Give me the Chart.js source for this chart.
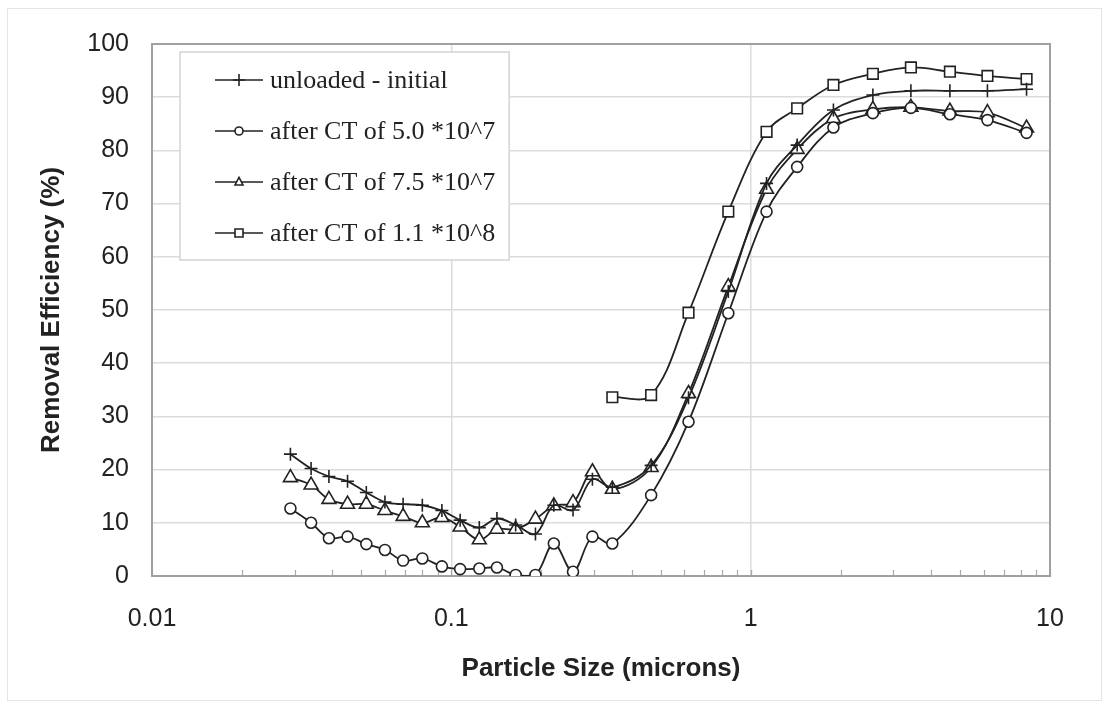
<!DOCTYPE html>
<html>
<head>
<title>Removal Efficiency vs Particle Size</title>
<script src="https://cdn.jsdelivr.net/npm/chart.js"></script>
<style>
    body { margin: 0; background: #fff; }
    .wrap { position: relative; width: 1109px; height: 707px; }
    .frame { position: absolute; left: 7px; top: 8px; right: 7px; bottom: 6px; border: 1px solid #e4e4e4; pointer-events: none; }
</style>
</head>
<body>
<div class="wrap">
    <canvas id="chart" width="1109" height="707"></canvas>
    <div class="frame"></div>
</div>
<script>
// particle size bins (microns)
const sizes = [0.029, 0.034, 0.039, 0.045, 0.052, 0.060, 0.069, 0.080, 0.093, 0.107,
               0.124, 0.142, 0.164, 0.191, 0.220, 0.255, 0.296, 0.345, 0.465, 0.620,
               0.842, 1.13, 1.43, 1.89, 2.56, 3.43, 4.63, 6.18, 8.35];

// removal efficiency (%)
const unloaded = [22.9, 20.2, 18.7, 17.8, 15.7, 13.9, 13.5, 13.3, 12.3, 10.5,
                  9.1, 10.8, 9.6, 7.9, 13.3, 12.4, 18.2, 16.7, 20.8, 33.5,
                  53.5, 73.8, 81.0, 87.6, 90.4, 91.2, 91.2, 91.2, 91.5];
const ct50 = [12.7, 10.0, 7.1, 7.4, 6.0, 4.9, 2.9, 3.3, 1.8, 1.3,
              1.4, 1.6, 0.2, 0.2, 6.1, 0.8, 7.4, 6.1, 15.2, 29.0,
              49.4, 68.5, 76.9, 84.3, 87.0, 88.0, 86.8, 85.7, 83.3];
const ct75 = [18.5, 17.1, 14.4, 13.5, 13.5, 12.3, 11.2, 10.0, 11.0, 9.2,
              6.8, 8.8, 8.8, 10.7, 13.2, 13.8, 19.6, 16.3, 20.4, 34.3,
              54.4, 72.7, 80.2, 86.0, 87.7, 88.1, 87.4, 87.1, 84.2];
const ct110 = [null, null, null, null, null, null, null, null, null, null,
               null, null, null, null, null, null, null, 33.6, 34.0, 49.5,
               68.5, 83.5, 87.9, 92.3, 94.4, 95.6, 94.8, 94.0, 93.4];

const seriesLabels = ['unloaded - initial', 'after CT of 5.0 *10^7', 'after CT of 7.5 *10^7', 'after CT of 1.1 *10^8'];
const seriesValues = [unloaded, ct50, ct75, ct110];
const seriesMarkers = ['cross', 'circle', 'triangle', 'rect'];
const markerRadius = [6.5, 5.5, 8, 7.5];

const xTickLabels = ['0.01', '0.1', '1', '10'];

function isDecade(v) {
    const l = Math.log10(v);
    return Math.abs(l - Math.round(l)) < 1e-6;
}

function drawMarker(ctx, style, x, y, r) {
    ctx.beginPath();
    if (style === 'cross') {
        ctx.moveTo(x - r, y); ctx.lineTo(x + r, y);
        ctx.moveTo(x, y - r); ctx.lineTo(x, y + r);
        ctx.stroke();
        return;
    }
    if (style === 'circle') ctx.arc(x, y, r, 0, Math.PI * 2);
    else if (style === 'rect') ctx.rect(x - r, y - r, 2 * r, 2 * r);
    else if (style === 'triangle') {
        ctx.moveTo(x, y - r * 1.15);
        ctx.lineTo(x + r, y + r * 0.75);
        ctx.lineTo(x - r, y + r * 0.75);
        ctx.closePath();
    }
    ctx.fillStyle = '#fff';
    ctx.fill();
    ctx.stroke();
}

// plot frame + small inside tick marks on the log axis
const framePlugin = {
    id: 'framePlugin',
    beforeDatasetsDraw(chart) {
        const { ctx, chartArea: a, scales: { x } } = chart;
        ctx.save();
        ctx.strokeStyle = '#a8a8a8';
        ctx.lineWidth = 1.2;
        [0.01, 0.1, 1].forEach(d => {
            for (let k = 1; k <= 10; k++) {
                const px = Math.round(x.getPixelForValue(k * d)) + 0.5;
                ctx.beginPath();
                ctx.moveTo(px, a.bottom);
                ctx.lineTo(px, a.bottom - 6);
                ctx.stroke();
            }
        });
        ctx.strokeStyle = '#a0a0a0';
        ctx.lineWidth = 2;
        ctx.strokeRect(a.left, a.top, a.right - a.left, a.bottom - a.top);
        ctx.restore();
    }
};

// legend box drawn inside the plot, top-left
const insideLegend = {
    id: 'insideLegend',
    afterDatasetsDraw(chart) {
        const ctx = chart.ctx;
        const x0 = 180, y0 = 52, rowH = 51;
        ctx.save();
        ctx.font = '26px "Liberation Serif", "Times New Roman", serif';
        let maxW = 0;
        chart.data.datasets.forEach(ds => { maxW = Math.max(maxW, ctx.measureText(ds.label).width); });
        const w = 90 + maxW + 14, h = 208;
        ctx.fillStyle = '#fff';
        ctx.fillRect(x0, y0, w, h);
        ctx.strokeStyle = '#d4d4d4';
        ctx.lineWidth = 1.5;
        ctx.strokeRect(x0, y0, w, h);
        chart.data.datasets.forEach((ds, i) => {
            const cy = y0 + 28 + i * rowH;
            ctx.strokeStyle = '#222';
            ctx.lineWidth = 1.6;
            ctx.beginPath();
            ctx.moveTo(215, cy);
            ctx.lineTo(263, cy);
            ctx.stroke();
            drawMarker(ctx, ds.pointStyle, 239, cy, ds.pointStyle === 'cross' ? 6 : 4);
            ctx.fillStyle = '#222';
            ctx.textBaseline = 'middle';
            ctx.fillText(ds.label, 270, cy + 1);
        });
        ctx.restore();
    }
};

const datasets = seriesLabels.map((label, i) => ({
    label: label,
    data: sizes.map((s, j) => ({ x: s, y: seriesValues[i][j] })),
    borderColor: '#222',
    borderWidth: 1.8,
    backgroundColor: '#fff',
    pointStyle: seriesMarkers[i],
    pointRadius: markerRadius[i],
    pointBorderWidth: 1.6,
    pointBorderColor: '#222',
    pointBackgroundColor: '#fff',
    tension: 0.35,
    fill: false
}));

new Chart(document.getElementById('chart'), {
    type: 'line',
    data: { datasets: datasets },
    options: {
        responsive: false,
        animation: false,
        layout: { padding: { left: 0, right: 59, top: 44, bottom: 0 } },
        plugins: {
            legend: { display: false },
            tooltip: { enabled: false }
        },
        scales: {
            x: {
                type: 'logarithmic',
                min: 0.01,
                max: 10,
                afterFit: s => { s.height = 131; },
                grid: {
                    drawTicks: false,
                    lineWidth: 1.5,
                    color: c => (c.tick && isDecade(c.tick.value)) ? '#dcdcdc' : 'rgba(0,0,0,0)'
                },
                border: { display: false },
                ticks: {
                    autoSkip: false,
                    maxRotation: 0,
                    padding: 28,
                    color: '#222',
                    font: { family: '"Liberation Sans", Arial, sans-serif', size: 25 },
                    callback: v => isDecade(v) ? xTickLabels[Math.round(Math.log10(v)) + 2] : ''
                },
                title: {
                    display: true,
                    text: 'Particle Size (microns)',
                    color: '#222',
                    padding: { top: 0, bottom: 23 },
                    font: { family: '"Liberation Sans", Arial, sans-serif', size: 26, weight: 'bold' }
                }
            },
            y: {
                min: 0,
                max: 100,
                afterFit: s => { s.width = 152; },
                grid: { drawTicks: false, color: '#dcdcdc', lineWidth: 1.5 },
                border: { display: false },
                ticks: {
                    stepSize: 10,
                    padding: 23,
                    color: '#222',
                    font: { family: '"Liberation Sans", Arial, sans-serif', size: 25 }
                },
                title: {
                    display: true,
                    text: 'Removal Efficiency (%)',
                    color: '#222',
                    padding: { top: 36, bottom: 0 },
                    font: { family: '"Liberation Sans", Arial, sans-serif', size: 26, weight: 'bold' }
                }
            }
        }
    },
    plugins: [framePlugin, insideLegend]
});
</script>
</body>
</html>
